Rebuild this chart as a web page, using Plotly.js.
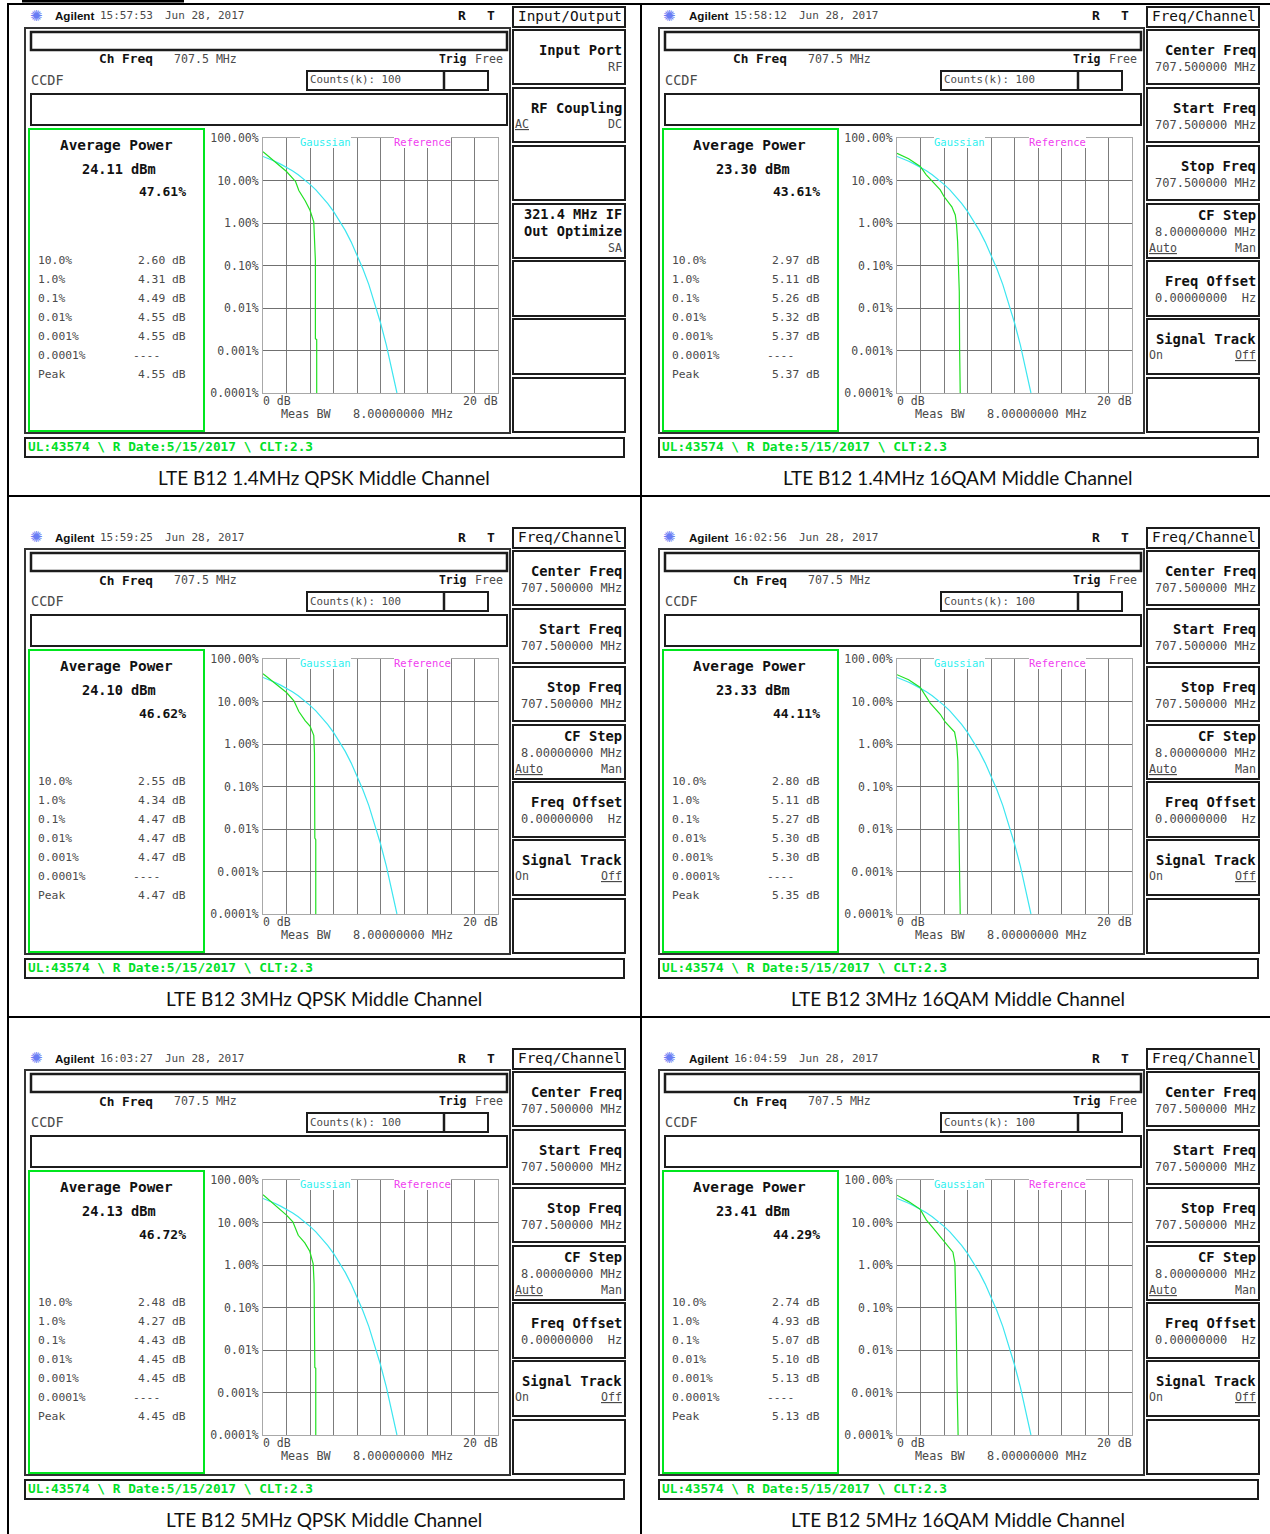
<!DOCTYPE html>
<html><head><meta charset="utf-8">
<script src="https://cdn.plot.ly/plotly-3.0.1.min.js"></script>
<style>html,body{margin:0;padding:0;background:#fff}#c{width:1270px;height:1534px}</style>
</head><body><div id="c"></div>
<script>
// ---- data ----
const captions = ["LTE B12 1.4MHz QPSK Middle Channel","LTE B12 1.4MHz 16QAM Middle Channel","LTE B12 3MHz QPSK Middle Channel","LTE B12 3MHz 16QAM Middle Channel","LTE B12 5MHz QPSK Middle Channel","LTE B12 5MHz 16QAM Middle Channel"];
const clockTimes = ["15:57:53","15:58:12","15:59:25","16:02:56","16:03:27","16:04:59"];
const avgPower = ["24.11 dBm","23.30 dBm","24.10 dBm","23.33 dBm","24.13 dBm","23.41 dBm"];
const avgPct = ["47.61%","43.61%","46.62%","44.11%","46.72%","44.29%"];
const rowLabels = ["10.0%","1.0%","0.1%","0.01%","0.001%","0.0001%","Peak"];
const read1 = ["2.60","4.31","4.49","4.55","4.55","----","4.55"];
const read2 = ["2.97","5.11","5.26","5.32","5.37","----","5.37"];
const read3 = ["2.55","4.34","4.47","4.47","4.47","----","4.47"];
const read4 = ["2.80","5.11","5.27","5.30","5.30","----","5.35"];
const read5 = ["2.48","4.27","4.43","4.45","4.45","----","4.45"];
const read6 = ["2.74","4.93","5.07","5.10","5.13","----","5.13"];
const yTickVals = [100,10,1,0.1,0.01,0.001,0.0001];
const yTickText = ["100.00%","10.00%","1.00%","0.10%","0.01%","0.001%","0.0001%"];
const xGrid = [0,2,4,6,8,10,12,14,16,18,20];
const gaussX = [0,0.5,1,1.5,2,2.5,3,3.5,4,4.5,5,5.5,6,6.5,7,7.5,8,8.5,9,9.5,10,10.5,11,11.4];
const gaussY = [36.8,32.6,28.4,24.3,20.5,16.9,13.6,10.7,8.1,6.0,4.2,2.9,1.87,1.15,0.67,0.36,0.18,0.084,0.036,0.0135,0.0045,0.00134,0.00034,0.0001];
const refX1 = [0,1.07,2.0,2.77,3.05,3.6,4.0,4.32,4.38,4.46,4.46,4.57,4.57];
const refY1 = [47.6,27,16.3,9.5,5.8,3.3,2.0,1.07,0.52,0.13,0.0019,0.0018,0.0001];
const refX2 = [0,0.99,1.98,2.49,2.97,3.68,4.0,4.67,4.96,5.07,5.16,5.24,5.3,5.33,5.38];
const refY2 = [43.6,32.5,21.4,13.6,9.8,6.0,4.2,2.4,1.55,0.9,0.36,0.1,0.024,0.0011,0.0001];
const refX3 = [0,1.07,2.0,2.63,3.05,3.6,4.0,4.32,4.38,4.41,4.49,4.49];
const refY3 = [45,26.6,16.3,10.4,5.8,3.5,2.65,1.6,0.62,0.0061,0.0056,0.0001];
const refX4 = [0,0.99,1.98,2.41,2.83,3.68,4.1,4.9,5.07,5.18,5.24,5.3,5.38];
const refY4 = [42.7,32.5,21.4,13.6,9.2,5.0,3.3,1.9,1.07,0.4,0.02,0.0027,0.0001];
const refX5 = [0,1.07,2.0,2.54,3.0,3.56,3.98,4.27,4.35,4.41,4.49,4.49];
const refY5 = [45,25.6,14.9,10.4,5,3.3,2.1,1.07,0.36,0.0039,0.0037,0.0001];
const refX6 = [0,0.99,1.98,2.49,3.1,4.0,4.76,4.93,4.99,5.04,5.1,5.18,5.2];
const refY6 = [44,31,20.4,11.5,7.3,3.7,2.0,1.1,0.31,0.04,0.0024,0.00022,0.0001];

const readouts = [read1,read2,read3,read4,read5,read6];
const refXs = [refX1,refX2,refX3,refX4,refX5,refX6];
const refYs = [refY1,refY2,refY3,refY4,refY5,refY6];
const W = 1270, H = 1534;
const MONO = '"DejaVu Sans Mono", monospace';
const GRAY = '#4a4a4a', DARK = '#1c1c1c', LIME = '#00e61e';

const shapes = [], annotations = [], traces = [];
const layout = {width:W,height:H,margin:{l:0,r:0,t:0,b:0},paper_bgcolor:'#fff',plot_bgcolor:'rgba(0,0,0,0)',showlegend:false,hovermode:false,shapes,annotations};
const px = x => x/W, py = y => 1-y/H;
function rect(x0,y0,x1,y1,color,w){shapes.push({type:'rect',xref:'paper',yref:'paper',x0:px(x0),x1:px(x1),y0:py(y0),y1:py(y1),line:{color:color||DARK,width:w||2},fillcolor:'rgba(0,0,0,0)',layer:'below'});}
function seg(x0,y0,x1,y1,color,w){shapes.push({type:'line',xref:'paper',yref:'paper',x0:px(x0),x1:px(x1),y0:py(y0),y1:py(y1),line:{color:color||'#000',width:w||2},layer:'below'});}
function txt(x,y,s,size,o){o=o||{};annotations.push({xref:'paper',yref:'paper',x:px(x),y:py(y),text:o.bold?'<b>'+s+'</b>':s,showarrow:false,xanchor:o.a||'left',yanchor:'middle',borderpad:0,borderwidth:0,bgcolor:o.bg||'rgba(0,0,0,0)',font:{family:o.f||MONO,size:size,color:o.c||GRAY}});}
const ul = s => '<span style="text-decoration:underline">'+s+'</span>';

const freqKeys = [
 {s:1,t:"Center Freq",v:"707.500000 MHz"},
 {s:2,t:"Start Freq",v:"707.500000 MHz"},
 {s:3,t:"Stop Freq",v:"707.500000 MHz"},
 {s:4,t:"CF Step",v:"8.00000000 MHz",l:ul("Auto"),r:"Man"},
 {s:5,t:"Freq Offset",v:"0.00000000  Hz"},
 {s:6,t:"Signal Track",l:"On",r:ul("Off")}];
const ioKeys = [
 {s:1,t:"Input Port",v:"RF"},
 {s:2,t:"RF Coupling",l:ul("AC"),r2:"DC"},
 {s:4,t:"321.4 MHz IF",t2:"Out Optimize",v3:"SA"}];
const slotTop = [7,30,88,146,204,261,319,378];
const slotBot = [27,84,142,200,258,316,374,432];

for(let p=0;p<6;p++){
  const dx = (p%2)*634, dy = Math.floor(p/2)*521;
  const X = x=>x+dx, Y = y=>y+dy;
  const n = p+1, xa = 'xaxis'+(n>1?n:''), ya='yaxis'+(n>1?n:'');
  layout[xa] = {domain:[px(X(263)),px(X(498))],range:[0,20],anchor:'y'+(n>1?n:''),tickmode:'array',tickvals:xGrid,ticktext:xGrid.map(()=>''),ticks:'',showgrid:true,gridcolor:'#7c7c7c',gridwidth:1,showline:true,linecolor:'#a8a8a8',linewidth:1,mirror:true,zeroline:false,fixedrange:true};
  layout[ya] = {domain:[py(Y(393)),py(Y(138))],type:'log',range:[-4,2],anchor:'x'+(n>1?n:''),tickmode:'array',tickvals:yTickVals,ticktext:yTickText,ticks:'',ticklabelstandoff:1,tickfont:{family:MONO,size:11.5,color:GRAY},showgrid:true,gridcolor:'#707070',gridwidth:1,showline:true,linecolor:'#a8a8a8',linewidth:1,mirror:true,zeroline:false,fixedrange:true};
  traces.push({type:'scatter',mode:'lines',x:gaussX,y:gaussY,xaxis:'x'+(n>1?n:''),yaxis:'y'+(n>1?n:''),line:{color:'#3ce6f0',width:1.2},name:'Gaussian'});
  traces.push({type:'scatter',mode:'lines',x:refXs[p],y:refYs[p],xaxis:'x'+(n>1?n:''),yaxis:'y'+(n>1?n:''),line:{color:'#22e022',width:1.2},name:'Reference'});
  txt(X(325),Y(142),"Gaussian",10.5,{a:'center',c:'#30f0f0',bg:'#fff'});
  txt(X(423),Y(142),"Reference",10.5,{a:'center',c:'#f040f0',bg:'#fff'});
  txt(X(263),Y(401),"0 dB",11.5);
  txt(X(498),Y(401),"20 dB",11.5,{a:'right'});
  txt(X(281),Y(414),"Meas BW",11.8);
  txt(X(453),Y(414),"8.00000000 MHz",11.9,{a:'right'});

  txt(X(36),Y(16),"✺",15,{a:'center',c:'#6a7cf4',f:'"DejaVu Sans"'});
  txt(X(55),Y(16),"Agilent",11.6,{bold:true,f:'"Liberation Sans"',c:'#111'});
  txt(X(100),Y(16),clockTimes[p],11,{});
  txt(X(165),Y(16),"Jun 28, 2017",11,{});
  txt(X(462),Y(16),"R",13,{a:'center',bold:true,c:'#111'});
  txt(X(491),Y(16),"T",13,{a:'center',bold:true,c:'#111'});
  rect(X(25),Y(28),X(510),Y(433),'#333',2);
  rect(X(31),Y(32),X(507),Y(50),DARK,2.5);
  rect(X(307),Y(71),X(488),Y(90),DARK,2);
  seg(X(444),Y(71),X(444),Y(90),DARK,2.5);
  rect(X(31),Y(94),X(507),Y(125),DARK,2);
  rect(X(29),Y(129),X(204),Y(431),LIME,2);
  rect(X(25),Y(438),X(624),Y(457),DARK,2);
  txt(X(99),Y(59),"Ch Freq",12.8,{bold:true,c:'#111'});
  txt(X(174),Y(59),"707.5 MHz",11.6);
  txt(X(439),Y(59),"Trig",11.4,{bold:true,c:'#111'});
  txt(X(475),Y(59),"Free",11.6);
  txt(X(31),Y(80),"CCDF",13.5);
  txt(X(310),Y(80),"Counts(k): 100",10.8);
  txt(X(116),Y(145),"Average Power",14.4,{a:'center',bold:true,c:'#111'});
  txt(X(119),Y(169),avgPower[p],13.6,{a:'center',bold:true,c:'#111'});
  txt(X(186),Y(192),avgPct[p],13,{a:'right',bold:true,c:'#111'});
  rowLabels.forEach((lab,i)=>{
    const yy = Y(260+19*i);
    txt(X(38),yy,lab,11.3);
    if(readouts[p][i]==="----") txt(X(133),yy,"----",11.3);
    else txt(X(186),yy,readouts[p][i]+" dB",11.3,{a:'right'});
  });
  txt(X(28),Y(446.5),"UL:43574 \\ R Date:5/15/2017 \\ CLT:2.3",12.8,{bold:true,c:'#00e028'});
  txt(X(324),Y(477.5),captions[p],19,{a:'center',f:'Lato',c:'#111'});
  slotTop.forEach((t,i)=>rect(X(513),Y(t),X(625),Y(slotBot[i]),DARK,2));
  txt(X(622),Y(16),p===0?"Input/Output":"Freq/Channel",14.4,{a:'right',c:'#111'});
  (p===0?ioKeys:freqKeys).forEach(k=>{
    const top = slotTop[k.s];
    if(k.t2){
      txt(X(622),Y(top+10),k.t,13.6,{a:'right',bold:true,c:'#111'});
      txt(X(622),Y(top+27),k.t2,13.6,{a:'right',bold:true,c:'#111'});
      txt(X(622),Y(top+44),k.v3,11.6,{a:'right'});
      return;
    }
    const ty = k.s===4?top+11:top+20;
    txt(X(622),Y(ty),k.t,13.8,{a:'right',bold:true,c:'#111'});
    if(k.v) txt(X(622),Y(ty+17),k.v,12,{a:'right'});
    const noteY = top+36;
    if(k.l) txt(X(515),Y(k.s===4?top+44:noteY),k.l,11.6);
    if(k.r) txt(X(622),Y(k.s===4?top+44:noteY),k.r,11.6,{a:'right'});
    if(k.r2) txt(X(622),Y(noteY),k.r2,11.6,{a:'right'});
  });
}
seg(22,1,184,1,'#000',3);
seg(7,4,W,4,'#000',2);
seg(7,496,W,496,'#000',2);
seg(7,1017,W,1017,'#000',2);
seg(8,4,8,H,'#000',2);
seg(641,4,641,H,'#000',2);

Plotly.newPlot('c',traces,layout,{staticPlot:true,displayModeBar:false});
</script></body></html>
